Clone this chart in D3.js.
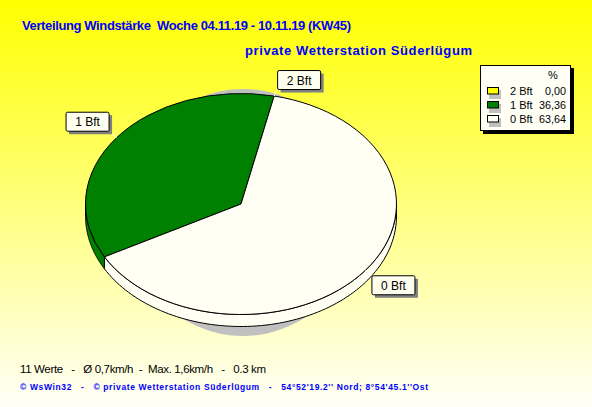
<!DOCTYPE html>
<html><head><meta charset="utf-8">
<script src="https://cdnjs.cloudflare.com/ajax/libs/d3/7.8.5/d3.min.js"></script>
<style>html,body{margin:0;padding:0;background:#fff}svg{display:block}text{font-family:"Liberation Sans",Arial,sans-serif}</style>
</head><body><svg id="c" width="592" height="407"></svg>
<script>
const categories = ["2 Bft","1 Bft","0 Bft"];
const shares = [0.00,36.36,63.64];
const valueLabels = ["0,00","36,36","63,64"];
const colors = ["#ffff00","#008000","#fffff4"];
const titleText = "Verteilung Windstärke  Woche 04.11.19 - 10.11.19 (KW45)";
const subtitleText = "private Wetterstation Süderlügum";
const statsText = "11 Werte   -   Ø 0,7km/h  -  Max. 1,6km/h   -   0.3 km";
const footerText = "© WsWin32   -   © private Wetterstation Süderlügum   -   54°52'19.2'' Nord; 8°54'45.1''Ost";
const W=592,H=407,cx=241,cy=204,rx=155.5,ry=110.5,depth=12;
const svg=d3.select("#c");
const defs=svg.append("defs");
const g=defs.append("linearGradient").attr("id","bg").attr("x1",0).attr("y1",0).attr("x2",0).attr("y2",1);
g.append("stop").attr("offset",0).attr("stop-color","#ffff00");
g.append("stop").attr("offset",1).attr("stop-color","#fffff8");
svg.append("rect").attr("width",W).attr("height",H).attr("fill","url(#bg)");
svg.append("text").attr("x",22).attr("y",30).attr("fill","#0000ff").attr("font-weight","bold").attr("font-size",13).attr("textLength",329).style("white-space","pre").text(titleText);
svg.append("text").attr("x",245).attr("y",55).attr("fill","#0000ff").attr("font-weight","bold").attr("font-size",13).attr("textLength",227).text(subtitleText);
svg.append("text").attr("x",20).attr("y",373).attr("fill","#000").attr("font-size",11.5).attr("textLength",246).style("white-space","pre").text(statsText);
svg.append("text").attr("x",20).attr("y",390).attr("fill","#0000ff").attr("font-weight","bold").attr("font-size",8.5).attr("textLength",408).style("white-space","pre").text(footerText);

const startDeg=12.3;
const pie=d3.pie().sort(null).value(d=>d.v).startAngle(startDeg*Math.PI/180).endAngle((startDeg-360)*Math.PI/180);
const arcs=pie(categories.map((c,i)=>({c,v:shares[i],color:colors[i]})));
const px=a=>cx+rx*Math.sin(a), py=a=>cy-ry*Math.cos(a);
// drop shadow
svg.append("ellipse").attr("cx",cx+2).attr("cy",cy+8.5).attr("rx",118).attr("ry",ry+13).attr("fill","#c0c0c0");
// side wall
const line=d3.line(), TAU=2*Math.PI;
arcs.forEach(d=>{
  if(d.value===0)return;
  let lo=Math.min(d.startAngle,d.endAngle), hi=Math.max(d.startAngle,d.endAngle);
  while(lo<0){lo+=TAU;hi+=TAU;}
  const a0=Math.max(lo,Math.PI/2), a1=Math.min(hi,3*Math.PI/2);
  if(a1<=a0)return;
  const n=90, ts=d3.range(n+1).map(i=>a0+(a1-a0)*i/n);
  const upper=ts.map(t=>[px(t),py(t)]);
  const lower=ts.slice().reverse().map(t=>[px(t),py(t)+depth]);
  svg.append("path").attr("d",line(upper.concat(lower))+"Z").attr("fill",d.data.color).attr("stroke","#000").attr("stroke-width",1);
});
// top face
const arc=d3.arc().innerRadius(0).outerRadius(rx);
const faceG=svg.append("g").attr("transform",`translate(${cx},${cy}) scale(1,${ry/rx})`);
faceG.selectAll("path").data(arcs.filter(d=>d.value>0)).join("path").attr("d",arc).attr("fill",d=>d.data.color).attr("stroke","#000").attr("stroke-width",1).attr("vector-effect","non-scaling-stroke");
// labels
const bw=43,bh=19;
arcs.forEach(d=>{
  const a=d.value===0?d.startAngle:(d.startAngle+d.endAngle)/2;
  const sx=px(a),sy=py(a);
  const right=Math.sin(a)>=0, up=Math.cos(a)>=0;
  const ax=sx+(right?(up?3:6):-8), ay=sy+(up?-7:5);
  const bx=right?ax:ax-bw, by=up?ay-bh:ay;
  svg.append("line").attr("x1",sx).attr("y1",sy).attr("x2",ax).attr("y2",ay).attr("stroke","#fff").attr("stroke-width",1);
  svg.append("rect").attr("x",bx+3.5).attr("y",by+3.5).attr("width",bw).attr("height",bh).attr("fill","#808080");
  svg.append("rect").attr("x",bx+.5).attr("y",by+.5).attr("width",bw).attr("height",bh).attr("rx",1.5).attr("fill","#fffff0").attr("stroke","#000");
  svg.append("text").attr("x",bx+bw/2+.5).attr("y",by+14.5).attr("text-anchor","middle").attr("font-size",12).attr("fill","#000").text(d.data.c);
});
// legend
const lx=480,ly=65,lw=90,lh=65;
svg.append("rect").attr("x",lx+3).attr("y",ly+3).attr("width",lw+1).attr("height",lh+1).attr("fill","#000");
svg.append("rect").attr("x",lx+.5).attr("y",ly+.5).attr("width",lw).attr("height",lh).attr("fill","#fffff6").attr("stroke","#000");
svg.append("text").attr("x",553).attr("y",79).attr("text-anchor","middle").attr("font-size",11).text("%");
const rowY=d3.scalePoint().domain(categories).range([91,119]);
categories.forEach((c,i)=>{
  const y=rowY(c);
  svg.append("rect").attr("x",489).attr("y",y-1).attr("width",12).attr("height",9).attr("fill","#c0c0c0");
  svg.append("rect").attr("x",487.5).attr("y",y-3.5).attr("width",11).attr("height",6.5).attr("fill",colors[i]).attr("stroke","#000");
  svg.append("text").attr("x",510).attr("y",y+4).attr("font-size",11).text(c);
  svg.append("text").attr("x",566).attr("y",y+4).attr("text-anchor","end").attr("font-size",10.8).text(valueLabels[i]);
});
</script></body></html>
